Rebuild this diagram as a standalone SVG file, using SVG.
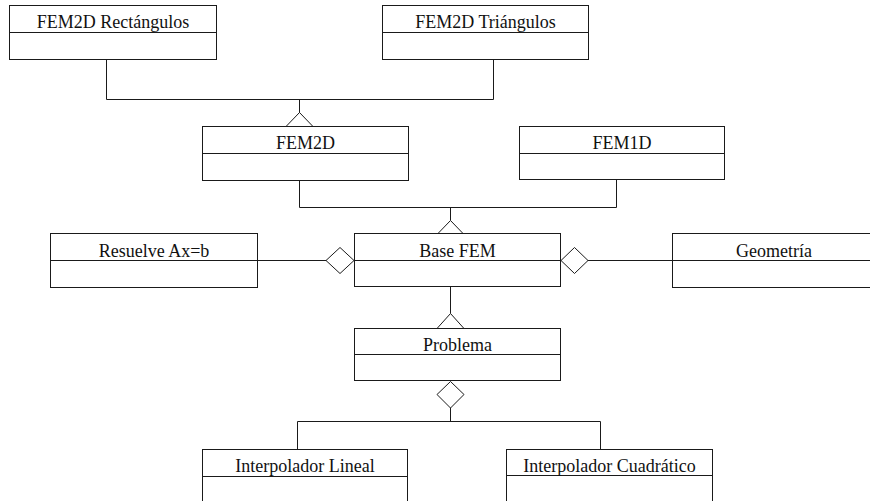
<svg xmlns="http://www.w3.org/2000/svg" width="870" height="501" viewBox="0 0 870 501">
<style>
  .box { fill: #ffffff; stroke: #1a1a1a; stroke-width: 1; }
  .div { stroke: #1a1a1a; stroke-width: 1; }
  .lbl { font-family: "Liberation Serif", "Times New Roman", serif; font-size: 18px; fill: #111111; text-anchor: middle; }
  .conn { fill: none; stroke: #1a1a1a; stroke-width: 1; }
  .head { fill: #ffffff; stroke: #1a1a1a; stroke-width: 1; }
</style>
<rect width="870" height="501" fill="#ffffff"/>
<g id="connectors">
  <path class="conn" d="M106.5,60 V99.5 H493.5 V60"/>
  <path class="conn" d="M299.5,99.5 V113"/>
  <polygon class="head" points="299.5,112.5 286,126.5 313,126.5"/>
  <path class="conn" d="M299.5,181 V207.5 H616.5 V180"/>
  <path class="conn" d="M450.5,207.5 V220.5"/>
  <polygon class="head" points="450.5,220.5 437,234.5 464,234.5"/>
  <path class="conn" d="M258,260.5 H326"/>
  <polygon class="head" points="326,260.5 340,247.5 354,260.5 340,273.5"/>
  <path class="conn" d="M588,260.5 H672"/>
  <polygon class="head" points="561,260.5 574.5,247.5 588,260.5 574.5,273.5"/>
  <path class="conn" d="M450.5,287 V313.5"/>
  <polygon class="head" points="450.5,313.5 437,328.5 464,328.5"/>
  <path class="conn" d="M450.5,408 V421.5 M297.5,449 V421.5 H600.5 V449"/>
  <polygon class="head" points="450.5,381.5 464,394.5 450.5,408 437,394.5"/>
</g>
<g id="fem2d-rectangulos">
  <rect class="box" x="9.5" y="5.5" width="207" height="54"/>
  <line class="div" x1="9.5" y1="32.5" x2="216.5" y2="32.5"/>
  <text class="lbl" x="113" y="28">FEM2D Rectángulos</text>
</g>
<g id="fem2d-triangulos">
  <rect class="box" x="382.5" y="5.5" width="206" height="54"/>
  <line class="div" x1="382.5" y1="32.5" x2="588.5" y2="32.5"/>
  <text class="lbl" x="485.5" y="28">FEM2D Triángulos</text>
</g>
<g id="fem2d">
  <rect class="box" x="202.5" y="126.5" width="206" height="54"/>
  <line class="div" x1="202.5" y1="153.5" x2="408.5" y2="153.5"/>
  <text class="lbl" x="305.5" y="149">FEM2D</text>
</g>
<g id="fem1d">
  <rect class="box" x="519.5" y="126.5" width="205" height="53"/>
  <line class="div" x1="519.5" y1="153.5" x2="724.5" y2="153.5"/>
  <text class="lbl" x="622" y="149">FEM1D</text>
</g>
<g id="resuelve">
  <rect class="box" x="50.5" y="233.5" width="207" height="54"/>
  <line class="div" x1="50.5" y1="260.5" x2="257.5" y2="260.5"/>
  <text class="lbl" x="154" y="256.5">Resuelve Ax=b</text>
</g>
<g id="base-fem">
  <rect class="box" x="354.5" y="233.5" width="206" height="53"/>
  <line class="div" x1="354.5" y1="260.5" x2="560.5" y2="260.5"/>
  <text class="lbl" x="457.5" y="256.5">Base FEM</text>
</g>
<g id="geometria">
  <rect class="box" x="672.5" y="233.5" width="204" height="54"/>
  <line class="div" x1="672.5" y1="260.5" x2="876.5" y2="260.5"/>
  <text class="lbl" x="774" y="256.5">Geometría</text>
</g>
<g id="problema">
  <rect class="box" x="354.5" y="328.5" width="206" height="52"/>
  <line class="div" x1="354.5" y1="354.5" x2="560.5" y2="354.5"/>
  <text class="lbl" x="457.5" y="351">Problema</text>
</g>
<g id="interpolador-lineal">
  <rect class="box" x="202.5" y="449.5" width="205" height="60"/>
  <line class="div" x1="202.5" y1="476.5" x2="407.5" y2="476.5"/>
  <text class="lbl" x="305" y="472">Interpolador Lineal</text>
</g>
<g id="interpolador-cuadratico">
  <rect class="box" x="506.5" y="449.5" width="206" height="60"/>
  <line class="div" x1="506.5" y1="475.5" x2="712.5" y2="475.5"/>
  <text class="lbl" x="609.5" y="472">Interpolador Cuadrático</text>
</g>
</svg>
